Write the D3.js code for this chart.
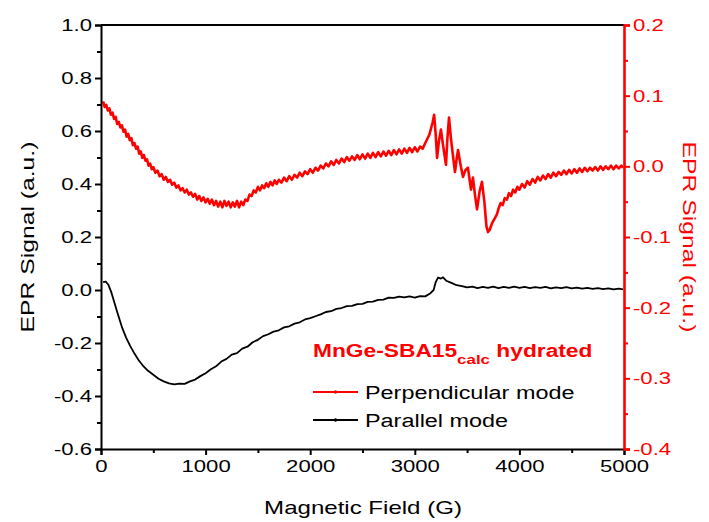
<!DOCTYPE html>
<html>
<head>
<meta charset="utf-8">
<script src="https://cdn.jsdelivr.net/npm/d3@7"></script>
<style>
  body { margin: 0; background: #fff; }
  svg { display: block; font-family: "Liberation Sans", Arial, sans-serif; }
</style>
</head>
<body>
<div id="chart"></div>
<script>
// Perpendicular mode (red, right axis): [field (G), signal (a.u.)]
const perpendicular = [
    [20, 0.092], [35, 0.084], [50, 0.087], [65, 0.079], [80, 0.082], [95, 0.073], [110, 0.076], [125, 0.067],
    [140, 0.070], [155, 0.060], [170, 0.063], [185, 0.055], [200, 0.058], [215, 0.049], [230, 0.052], [245, 0.042],
    [260, 0.046], [275, 0.037], [290, 0.040], [305, 0.030], [320, 0.033], [335, 0.025], [350, 0.028], [365, 0.018],
    [380, 0.021], [395, 0.012], [410, 0.016], [425, 0.008], [440, 0.010], [455, 0.001], [470, 0.004], [485, -0.004],
    [500, -0.001], [520, -0.009], [540, -0.006], [560, -0.014], [580, -0.011], [600, -0.019], [620, -0.015], [640, -0.022],
    [660, -0.019], [680, -0.026], [700, -0.023], [720, -0.030], [740, -0.027], [760, -0.034], [780, -0.031], [800, -0.037],
    [820, -0.033], [840, -0.040], [860, -0.037], [880, -0.043], [900, -0.039], [920, -0.047], [940, -0.042], [960, -0.049],
    [980, -0.044], [1000, -0.051], [1020, -0.046], [1040, -0.053], [1060, -0.047], [1080, -0.055], [1100, -0.049], [1120, -0.057],
    [1140, -0.050], [1160, -0.058], [1180, -0.049], [1200, -0.056], [1220, -0.050], [1240, -0.058], [1260, -0.051], [1280, -0.057],
    [1300, -0.049], [1320, -0.058], [1340, -0.050], [1360, -0.055], [1380, -0.047], [1400, -0.049], [1420, -0.040], [1440, -0.042],
    [1460, -0.034], [1480, -0.037], [1500, -0.029], [1520, -0.034], [1540, -0.027], [1560, -0.031], [1580, -0.024], [1600, -0.029],
    [1620, -0.022], [1640, -0.027], [1660, -0.020], [1680, -0.025], [1700, -0.019], [1725, -0.023], [1750, -0.016], [1775, -0.021],
    [1800, -0.014], [1825, -0.019], [1850, -0.012], [1875, -0.016], [1900, -0.009], [1925, -0.014], [1950, -0.007], [1975, -0.011],
    [2000, -0.004], [2025, -0.009], [2050, -0.002], [2075, -0.006], [2100, 0.001], [2125, -0.003], [2150, 0.004], [2175, 0.000],
    [2200, 0.007], [2225, 0.002], [2250, 0.009], [2275, 0.004], [2300, 0.011], [2325, 0.006], [2350, 0.013], [2375, 0.008],
    [2400, 0.014], [2425, 0.009], [2450, 0.016], [2475, 0.010], [2500, 0.017], [2525, 0.011], [2550, 0.018], [2575, 0.012],
    [2600, 0.019], [2625, 0.013], [2650, 0.020], [2675, 0.014], [2700, 0.021], [2725, 0.015], [2750, 0.022], [2775, 0.016],
    [2800, 0.023], [2825, 0.017], [2850, 0.024], [2875, 0.018], [2900, 0.025], [2925, 0.019], [2950, 0.026], [2975, 0.020],
    [3000, 0.027], [3025, 0.021], [3050, 0.028], [3075, 0.025], [3100, 0.033], [3140, 0.045], [3170, 0.062], [3185, 0.073],
    [3200, 0.045], [3213, 0.012], [3230, 0.035], [3250, 0.052], [3270, 0.030], [3298, 0.002], [3312, 0.040], [3327, 0.069],
    [3345, 0.040], [3365, 0.015], [3384, -0.008], [3400, 0.010], [3413, 0.023], [3440, 0.000], [3461, -0.015], [3485, -0.005],
    [3508, -0.002], [3525, -0.020], [3537, -0.033], [3556, -0.016], [3575, -0.040], [3595, -0.061], [3620, -0.035], [3642, -0.022],
    [3665, -0.050], [3685, -0.085], [3700, -0.093], [3715, -0.090], [3740, -0.080], [3767, -0.073], [3785, -0.068], [3800, -0.060],
    [3820, -0.052], [3840, -0.055], [3860, -0.045], [3881, -0.047], [3900, -0.038], [3920, -0.042], [3940, -0.033], [3960, -0.037],
    [3980, -0.029], [4000, -0.033], [4025, -0.025], [4050, -0.030], [4075, -0.021], [4100, -0.026], [4125, -0.018], [4150, -0.023],
    [4175, -0.015], [4200, -0.020], [4225, -0.013], [4250, -0.018], [4275, -0.011], [4300, -0.016], [4325, -0.009], [4350, -0.014],
    [4375, -0.008], [4400, -0.012], [4425, -0.006], [4450, -0.011], [4475, -0.005], [4500, -0.010], [4525, -0.004], [4550, -0.009],
    [4575, -0.003], [4600, -0.008], [4625, -0.002], [4650, -0.007], [4675, -0.002], [4700, -0.006], [4725, -0.001], [4750, -0.006],
    [4775, 0.000], [4800, -0.005], [4825, 0.000], [4850, -0.004], [4875, 0.001], [4900, -0.004], [4925, 0.001], [4950, -0.003],
    [4975, 0.001], [4990, -0.002]
];

// Parallel mode (black, left axis): [field (G), signal (a.u.)]
const parallel = [
    [20, 0.030], [45, 0.032], [70, 0.020], [100, -0.010], [130, -0.050], [160, -0.090], [200, -0.140], [240, -0.180],
    [280, -0.212], [320, -0.240], [360, -0.265], [400, -0.285], [450, -0.305], [500, -0.320], [550, -0.335], [600, -0.345],
    [650, -0.352], [700, -0.356], [750, -0.353], [800, -0.354], [850, -0.345], [900, -0.338], [950, -0.325], [1000, -0.314],
    [1050, -0.299], [1100, -0.288], [1150, -0.270], [1200, -0.260], [1250, -0.244], [1300, -0.238], [1350, -0.221], [1400, -0.214],
    [1450, -0.197], [1500, -0.188], [1550, -0.174], [1600, -0.167], [1650, -0.157], [1700, -0.152], [1750, -0.141], [1800, -0.137],
    [1850, -0.127], [1900, -0.122], [1950, -0.111], [2000, -0.106], [2050, -0.099], [2100, -0.092], [2150, -0.083], [2200, -0.080],
    [2250, -0.071], [2300, -0.068], [2350, -0.061], [2400, -0.060], [2450, -0.053], [2500, -0.052], [2550, -0.045], [2600, -0.044],
    [2650, -0.037], [2700, -0.036], [2750, -0.029], [2800, -0.030], [2850, -0.025], [2900, -0.028], [2950, -0.024], [3000, -0.029],
    [3050, -0.023], [3100, -0.024], [3150, -0.012], [3180, 0.000], [3200, 0.030], [3222, 0.047], [3250, 0.043], [3270, 0.048],
    [3300, 0.035], [3350, 0.027], [3400, 0.018], [3450, 0.015], [3500, 0.010], [3550, 0.013], [3600, 0.007], [3650, 0.012],
    [3700, 0.008], [3750, 0.013], [3800, 0.007], [3850, 0.012], [3900, 0.008], [3950, 0.013], [4000, 0.008], [4050, 0.012],
    [4100, 0.007], [4150, 0.011], [4200, 0.008], [4250, 0.012], [4300, 0.006], [4350, 0.010], [4400, 0.007], [4450, 0.011],
    [4500, 0.006], [4550, 0.009], [4600, 0.005], [4650, 0.008], [4700, 0.004], [4750, 0.007], [4800, 0.003], [4850, 0.006],
    [4900, 0.002], [4950, 0.005], [4990, 0.002]
];

const xTicks = [0, 1000, 2000, 3000, 4000, 5000];
const leftTicks = [-0.6, -0.4, -0.2, 0.0, 0.2, 0.4, 0.6, 0.8, 1.0];
const rightTicks = [-0.4, -0.3, -0.2, -0.1, 0.0, 0.1, 0.2];

const width = 709, height = 522;
const red = "#ff0000";
const stretch = 1.3;   // the type in the figure is set wider than normal

const svg = d3.select("#chart").append("svg")
    .attr("width", width)
    .attr("height", height);

const x = d3.scaleLinear().domain([0, 5000]).range([101, 624]);
const yL = d3.scaleLinear().domain([-0.6, 1.0]).range([449, 25]);
const yR = d3.scaleLinear().domain([-0.4, 0.2]).range([449, 25]);

// widen a text selection along its own direction
function widen(sel) {
    sel.each(function () {
        const w = this.getComputedTextLength();
        d3.select(this).attr("textLength", w * stretch).attr("lengthAdjust", "spacingAndGlyphs");
    });
}

function styleAxis(g, color, lw) {
    g.select(".domain").attr("stroke", color).attr("stroke-width", lw);
    g.selectAll(".tick line").attr("stroke", color).attr("stroke-width", 2);
    g.selectAll(".tick text").attr("fill", color)
        .style("font-size", "17px").style("font-family", "Liberation Sans, Arial, sans-serif");
}

// minor ticks first so major ones sit on top
const minorX = d3.range(500, 5000, 1000);
svg.append("g").attr("transform", `translate(0,${yL(-0.6)})`)
    .call(d3.axisBottom(x).tickValues(minorX).tickSize(4).tickFormat(""))
    .call(g => { g.select(".domain").remove(); g.selectAll("line").attr("stroke", "#000").attr("stroke-width", 2); });
svg.append("g").attr("transform", `translate(${x(0)},0)`)
    .call(d3.axisLeft(yL).tickValues(d3.range(-0.5, 1.0, 0.2)).tickSize(4).tickFormat(""))
    .call(g => { g.select(".domain").remove(); g.selectAll("line").attr("stroke", "#000").attr("stroke-width", 2); });
svg.append("g").attr("transform", `translate(${x(5000)},0)`)
    .call(d3.axisRight(yR).tickValues(d3.range(-0.35, 0.2, 0.1)).tickSize(4).tickFormat(""))
    .call(g => { g.select(".domain").remove(); g.selectAll("line").attr("stroke", red).attr("stroke-width", 2); });

// top frame line
svg.append("line")
    .attr("x1", x(0)).attr("x2", x(5000))
    .attr("y1", yL(1.0)).attr("y2", yL(1.0))
    .attr("stroke", "#000").attr("stroke-width", 2);

// data lines
svg.append("path")
    .datum(parallel)
    .attr("fill", "none")
    .attr("stroke", "#000")
    .attr("stroke-width", 1.8)
    .attr("stroke-linejoin", "round")
    .attr("d", d3.line().x(d => x(d[0])).y(d => yL(d[1])));

svg.append("path")
    .datum(perpendicular)
    .attr("fill", "none")
    .attr("stroke", red)
    .attr("stroke-width", 2.6)
    .attr("stroke-linejoin", "round")
    .attr("d", d3.line().x(d => x(d[0])).y(d => yR(d[1])));

// main axes
const xAxis = svg.append("g").attr("transform", `translate(0,${yL(-0.6)})`)
    .call(d3.axisBottom(x).tickValues(xTicks).tickSize(6).tickPadding(5).tickFormat(d3.format("d")))
    .call(g => styleAxis(g, "#000", 2));
widen(xAxis.selectAll(".tick text"));

const leftAxis = svg.append("g").attr("transform", `translate(${x(0)},0)`)
    .call(d3.axisLeft(yL).tickValues(leftTicks).tickSize(6).tickPadding(3).tickFormat(d => d.toFixed(1)))
    .call(g => styleAxis(g, "#000", 2));
widen(leftAxis.selectAll(".tick text"));

const rightAxis = svg.append("g").attr("transform", `translate(${x(5000)},0)`)
    .call(d3.axisRight(yR).tickValues(rightTicks).tickSize(6).tickPadding(3).tickFormat(d => d.toFixed(1)))
    .call(g => styleAxis(g, red, 2.6));
widen(rightAxis.selectAll(".tick text"));

// axis titles
const xTitle = svg.append("text")
    .attr("x", 363).attr("y", 514)
    .attr("text-anchor", "middle")
    .style("font-size", "18.5px")
    .text("Magnetic Field (G)");
widen(xTitle);

const leftTitle = svg.append("text")
    .attr("transform", `translate(34,${yL(0.2)}) rotate(-90)`)
    .attr("text-anchor", "middle")
    .style("font-size", "19px")
    .text("EPR Signal (a.u.)");
widen(leftTitle);

const rightTitle = svg.append("text")
    .attr("transform", `translate(683,${yL(0.2)}) rotate(90)`)
    .attr("text-anchor", "middle")
    .attr("fill", red)
    .style("font-size", "19px")
    .text("EPR Signal (a.u.)");
widen(rightTitle);

// legend
const legend = svg.append("g");
const title = legend.append("text")
    .attr("x", 313).attr("y", 357)
    .attr("fill", red)
    .style("font-size", "17.5px")
    .style("font-weight", "bold");
title.append("tspan").text("MnGe-SBA15");
title.append("tspan").attr("dy", 7).style("font-size", "13px").text("calc");
title.append("tspan").attr("dy", -7).text(" hydrated");
widen(title);

const legendItems = [
    { label: "Perpendicular mode", color: red, y: 392 },
    { label: "Parallel mode", color: "#000", y: 420 }
];
legendItems.forEach(item => {
    legend.append("line")
        .attr("x1", 313).attr("x2", 358)
        .attr("y1", item.y).attr("y2", item.y)
        .attr("stroke", item.color).attr("stroke-width", 2);
    legend.append("circle")
        .attr("cx", 335.5).attr("cy", item.y).attr("r", 1.8)
        .attr("fill", item.color);
    const t = legend.append("text")
        .attr("x", 365).attr("y", item.y + 6.5)
        .style("font-size", "18px")
        .text(item.label);
    widen(t);
});
</script>
</body>
</html>
